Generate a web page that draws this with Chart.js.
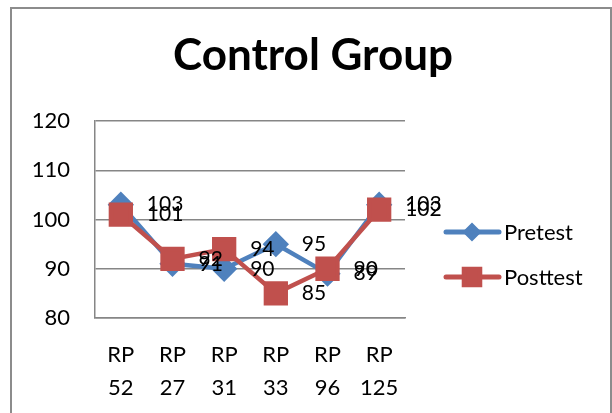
<!DOCTYPE html>
<html>
<head>
<meta charset="utf-8">
<script src="https://cdn.jsdelivr.net/npm/chart.js@4"></script>
<style>
  html, body { margin: 0; padding: 0; background: #fff; }
  canvas { display: block; }
</style>
</head>
<body>
<canvas id="groupChart" width="612" height="413"></canvas>
<script>
const categories = [["RP", "52"], ["RP", "27"], ["RP", "31"], ["RP", "33"], ["RP", "96"], ["RP", "125"]];
const pretest = [103, 91, 90, 95, 89, 103];
const posttest = [101, 92, 94, 85, 90, 102];
const yTicks = [80, 90, 100, 110, 120];
const chartTitle = "Control Group";

const FONT = "Lato, 'Open Sans', sans-serif";
const GREY = "#868686";

// outer frame of the chart object + the title, centred on the frame
const framePlugin = {
  id: "frame",
  beforeDraw(chart) {
    const ctx = chart.ctx;
    ctx.save();
    ctx.strokeStyle = "#8c8c8c";
    ctx.lineWidth = 2;
    ctx.strokeRect(11, 8, 600, 420);
    ctx.fillStyle = "#000";
    ctx.font = "bold 44px " + FONT;
    ctx.textAlign = "center";
    ctx.textBaseline = "alphabetic";
    ctx.fillText(chartTitle, 313, 70);
    ctx.restore();
  },
};

// value labels to the right of every point
const valueLabels = {
  id: "valueLabels",
  afterDatasetsDraw(chart) {
    const ctx = chart.ctx;
    ctx.save();
    ctx.font = "21px " + FONT;
    ctx.fillStyle = "#000";
    ctx.textAlign = "left";
    ctx.textBaseline = "middle";
    chart.data.datasets.forEach((ds, i) => {
      chart.getDatasetMeta(i).data.forEach((pt, j) => {
        ctx.fillText(String(ds.data[j]), pt.x + 26, pt.y);
      });
    });
    ctx.restore();
  },
};

// excel style legend: line with marker, on the right
const sideLegend = {
  id: "sideLegend",
  afterDraw(chart) {
    const ctx = chart.ctx;
    const rows = [232, 277];
    ctx.save();
    chart.data.datasets.forEach((ds, i) => {
      const y = rows[i];
      ctx.strokeStyle = ds.borderColor;
      ctx.lineWidth = 5;
      ctx.lineCap = "round";
      ctx.beginPath();
      ctx.moveTo(446, y);
      ctx.lineTo(499, y);
      ctx.stroke();
      ctx.fillStyle = ds.borderColor;
      Chart.helpers.drawPoint(ctx, {
        pointStyle: ds.pointStyle,
        radius: ds.legendRadius,
        borderWidth: 1,
        rotation: 0,
      }, 472, y);
      ctx.fillStyle = "#000";
      ctx.font = "22px " + FONT;
      ctx.textAlign = "left";
      ctx.textBaseline = "middle";
      ctx.fillText(ds.label, 504, y + 1);
    });
    ctx.restore();
  },
};

new Chart(document.getElementById("groupChart"), {
  type: "line",
  data: {
    labels: categories,
    datasets: [
      {
        label: "Pretest",
        data: pretest,
        borderColor: "#4F81BD",
        backgroundColor: "#4F81BD",
        borderWidth: 4.5,
        pointStyle: "rectRot",
        pointRadius: 10,
        legendRadius: 6,
        order: 1,
      },
      {
        label: "Posttest",
        data: posttest,
        borderColor: "#C0504D",
        backgroundColor: "#C0504D",
        borderWidth: 4.5,
        pointStyle: "rect",
        pointRadius: 14,
        legendRadius: 11,
        order: 0,
      },
    ],
  },
  options: {
    responsive: false,
    devicePixelRatio: 1,
    animation: false,
    clip: false,
    layout: { padding: { left: 0, right: 207, top: 121, bottom: 0 } },
    plugins: {
      legend: { display: false },
      tooltip: { enabled: false },
      title: { display: false },
    },
    scales: {
      x: {
        offset: true,
        grid: { display: false, drawTicks: false },
        border: { display: true, color: GREY, width: 1.5 },
        ticks: {
          color: "#000",
          padding: 20,
          maxRotation: 0,
          autoSkip: false,
          font: { family: FONT, size: 22, lineHeight: 1.5 },
        },
        afterFit(scale) { scale.height = 95; },
      },
      y: {
        min: 80,
        max: 120,
        afterBuildTicks(scale) { scale.ticks = yTicks.map((v) => ({ value: v })); },
        grid: { color: GREY, lineWidth: 1.5, drawTicks: false },
        border: { display: true, color: GREY, width: 1.5 },
        ticks: {
          color: "#000",
          padding: 25,
          font: { family: FONT, size: 22 },
        },
        afterFit(scale) { scale.width = 95; },
      },
    },
  },
  plugins: [framePlugin, valueLabels, sideLegend],
});
</script>
</body>
</html>
